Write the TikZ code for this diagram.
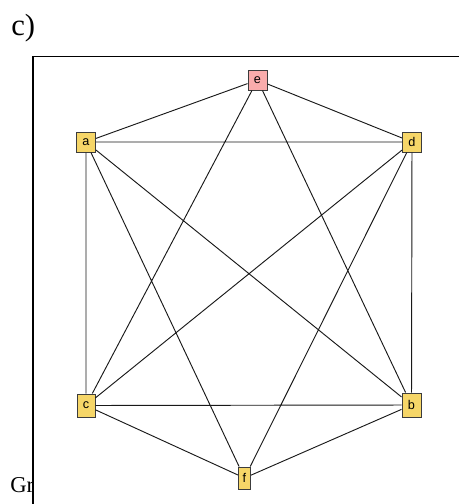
\documentclass[tikz,border=0pt]{standalone}
\usepackage{fontspec}
\setmainfont{Liberation Serif}
\newfontfamily\labelfont{Liberation Sans}
\definecolor{vyellow}{RGB}{246,214,104}
\definecolor{vpink}{RGB}{250,172,172}
\definecolor{vborder}{RGB}{60,60,60}
\begin{document}
\begin{tikzpicture}[x=0.75pt,y=-0.75pt,
  vertex/.style={draw=vborder,line width=0.75pt,fill=vyellow,inner sep=0pt,
    font=\labelfont\fontsize{9.5pt}{10pt}\selectfont},
  edge/.style={draw=black!90,line width=0.7pt}]
\useasboundingbox (0,0) rectangle (459,504);
% panel caption and cut-off text behind the frame
\node[anchor=base west,font=\fontsize{23pt}{26pt}\selectfont,inner sep=0pt] (cap) at (11,35) {c)};
\node[anchor=base west,font=\fontsize{17pt}{20pt}\selectfont,inner sep=0pt] (gr) at (10,492) {Gr};
% frame (only its left and top edges lie inside the picture)
\draw[fill=white,line width=1.1pt] (33,56.5) rectangle (480,530);
% vertices
\node[vertex,fill=vpink,minimum width=19*0.75pt,minimum height=20*0.75pt] (e) at (257.5,80) {e};
\node[vertex,minimum width=19*0.75pt,minimum height=20*0.75pt] (a) at (86,142) {a};
\node[vertex,minimum width=19*0.75pt,minimum height=20*0.75pt] (d) at (412,142) {d};
\node[vertex,minimum width=18*0.75pt,minimum height=23*0.75pt] (c) at (86,405.5) {c};
\node[vertex,minimum width=19*0.75pt,minimum height=24*0.75pt] (b) at (411.5,405) {b};
\node[vertex,minimum width=12*0.75pt,minimum height=22*0.75pt] (f) at (244.5,478) {f};
% edges
\path[edge] (e) -- (a) (e) -- (d) (e) -- (c) (e) -- (b)
  (a) -- (d) (a) -- (c) (a) -- (b) (a) -- (f)
  (d) -- (c) (d) -- (b) (d) -- (f)
  (c) -- (b) (c) -- (f) (b) -- (f);
\end{tikzpicture}
\end{document}
